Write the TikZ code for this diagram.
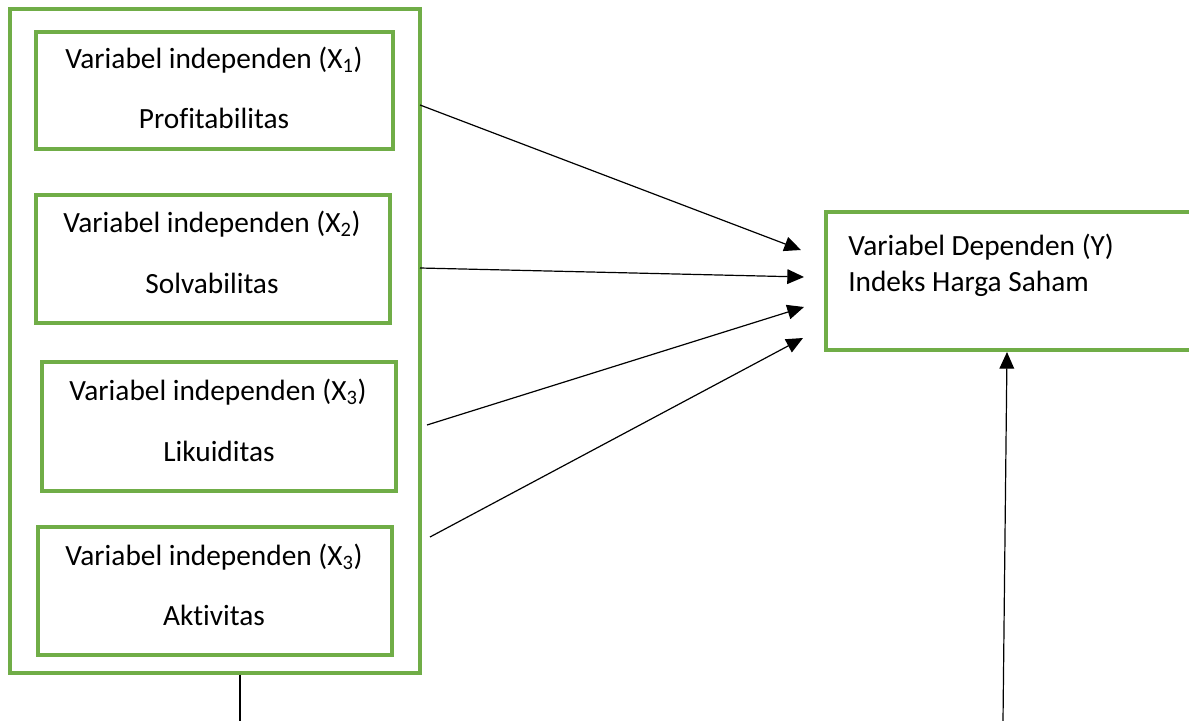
\documentclass[tikz,border=0pt]{standalone}
\usepackage{fontspec}
\setmainfont{Carlito}[Ligatures=NoCommon]
\usetikzlibrary{arrows.meta}
\definecolor{boxgreen}{RGB}{112,173,71}
\begin{document}
\begin{tikzpicture}[x=0.75pt,y=-0.75pt,
  gbox/.style={draw=boxgreen,line width=2.3pt,rectangle,inner sep=0pt,minimum width=#1},
  lbl/.style={anchor=base,inner sep=0pt,font=\fontsize{22}{26}\selectfont},
  con/.style={line width=0.9pt,-{Triangle[length=12.5pt,width=11pt]}},
  plain/.style={line width=0.9pt}]
\useasboundingbox (0,0) rectangle (1189,721);
\node[gbox=307.5pt,minimum height=498pt] (outer) at (215,341) {};
\node[gbox=267.75pt,minimum height=87.75pt] (b1) at (214.5,90.5) {};
\node[gbox=265.5pt,minimum height=96pt] (b2) at (213,259) {};
\node[gbox=265.5pt,minimum height=96.75pt] (b3) at (219,426.5) {};
\node[gbox=265.5pt,minimum height=96pt] (b4) at (215,591) {};
\node[gbox=325.5pt,minimum height=103.5pt] (y) at (1043,281) {};
\node[lbl] (t1a) at (214,68) {Variabel independen (X\textsubscript{1})};
\node[lbl] (t1b) at (214,128) {Profitabilitas};
\node[lbl] (t2a) at (212,232) {Variabel independen (X\textsubscript{2})};
\node[lbl] (t2b) at (212,293) {Solvabilitas};
\node[lbl] (t3a) at (218,400) {Variabel independen (X\textsubscript{3})};
\node[lbl] (t3b) at (219,461) {Likuiditas};
\node[lbl] (t4a) at (214,565) {Variabel independen (X\textsubscript{3})};
\node[lbl] (t4b) at (214,625) {Aktivitas};
\node[lbl,anchor=base west] (ya) at (848,255) {Variabel Dependen (Y)};
\node[lbl,anchor=base west] (yb) at (848,291) {Indeks Harga Saham};
\coordinate (s1) at (420,105);
\coordinate (e1) at (801,250);
\coordinate (s2) at (420,268);
\coordinate (e2) at (804,277);
\coordinate (s3) at (427,425);
\coordinate (e3) at (804,307);
\coordinate (s4) at (430,537);
\coordinate (e4) at (803,338);
\coordinate (s5) at (1003,721);
\coordinate (e5) at (1007,352);
\coordinate (s6) at (240,721);
\draw[con] (s1) -- (e1);
\draw[con] (s2) -- (e2);
\draw[con] (s3) -- (e3);
\draw[con] (s4) -- (e4);
\draw[con] (s5) -- (e5);
\draw[plain] (outer.south -| s6) -- (s6);
\end{tikzpicture}
\end{document}
